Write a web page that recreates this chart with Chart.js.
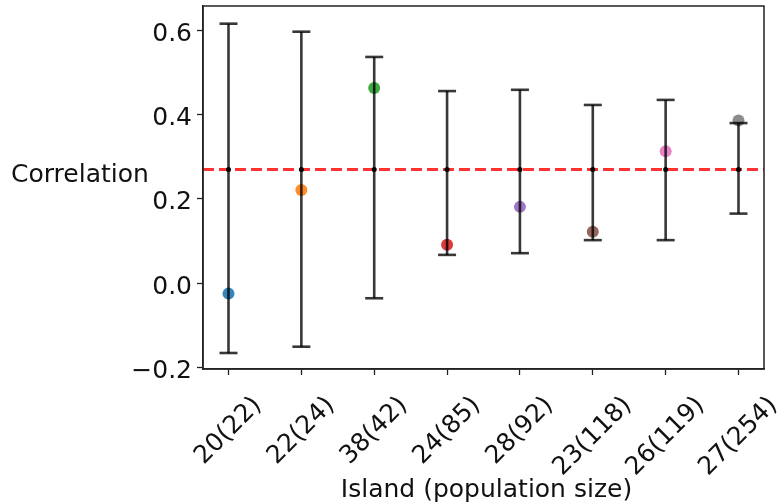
<!DOCTYPE html>
<html>
<head>
<meta charset="utf-8">
<script src="https://cdn.jsdelivr.net/npm/chart.js@4.4.1/dist/chart.umd.min.js"></script>
<style>
  html, body { margin: 0; padding: 0; background: #fff; }
</style>
</head>
<body>
<canvas id="graph_corr" width="777" height="504"></canvas>
<script>
// island labels: sample size (population size)
const islands = ["20(22)", "22(24)", "38(42)", "24(85)", "28(92)", "23(118)", "26(119)", "27(254)"];
const correlation = [-0.025, 0.221, 0.463, 0.091, 0.181, 0.122, 0.313, 0.386];
const nullMean = 0.27;
const nullLow = [-0.166, -0.151, -0.036, 0.067, 0.071, 0.102, 0.102, 0.165];
const nullHigh = [0.616, 0.597, 0.537, 0.456, 0.459, 0.423, 0.435, 0.380];
const yTicks = [-0.2, 0.0, 0.2, 0.4, 0.6];
const dotColors = ["#1f77b4", "#ff7f0e", "#2ca02c", "#d62728", "#9467bd", "#8c564b", "#e377c2", "#7f7f7f"];

const FONT = '"DejaVu Sans", sans-serif';
const xMin = -0.35, xMax = 7.35;

const canvas_corr = document.getElementById('graph_corr');
const ctx_corr = canvas_corr.getContext('2d');

const barPoints = [];
const capPoints = [];
islands.forEach((name, i) => {
  barPoints.push({x: i, y: nullLow[i]}, {x: i, y: nullHigh[i]}, {x: i, y: null});
  capPoints.push({x: i, y: nullLow[i]}, {x: i, y: nullHigh[i]});
});

const fmtTick = v => (v < -1e-9 ? '\u2212' : '') + Math.abs(v).toFixed(1);

const textPlugin = {
  id: 'textPlugin',
  afterDraw(chart) {
    const {ctx, chartArea} = chart;
    const xs = chart.scales.x;
    const ys = chart.scales.y;
    ctx.save();
    // top / right spines
    ctx.strokeStyle = '#222';
    ctx.lineWidth = 1.5;
    ctx.strokeRect(chartArea.left, chartArea.top, chartArea.right - chartArea.left, chartArea.bottom - chartArea.top);

    ctx.fillStyle = '#111';
    ctx.font = '25px ' + FONT;

    // y tick labels
    ctx.textAlign = 'right';
    ctx.textBaseline = 'alphabetic';
    yTicks.forEach(v => {
      ctx.fillText(fmtTick(v), chartArea.left - 11, ys.getPixelForValue(v) + 10.5);
    });

    // rotated x tick labels, bounding box centred under each tick
    islands.forEach((name, i) => {
      const px = xs.getPixelForValue(i);
      const w = ctx.measureText(name).width;
      const half = (w + 27) * Math.SQRT1_2 / 2;
      ctx.save();
      ctx.translate(px, chartArea.bottom + 23 + half);
      ctx.rotate(-Math.PI / 4);
      ctx.textAlign = 'center';
      ctx.textBaseline = 'middle';
      ctx.fillText(name, 0, 0);
      ctx.restore();
    });

    ctx.textAlign = 'center';
    ctx.textBaseline = 'alphabetic';
    ctx.fillText('Island (population size)', (chartArea.left + chartArea.right) / 2 + 3, 497);
    ctx.textAlign = 'left';
    ctx.fillText('Correlation', 11, 182);
    ctx.restore();
  }
};

const config_corr = {
  type: 'scatter',
  data: {
    datasets: [
      {
        label: 'observed',
        data: correlation.map((v, i) => ({x: i, y: v})),
        pointBackgroundColor: dotColors.map(c => c + 'e6'),
        pointBorderWidth: 0,
        pointRadius: 6,
        order: 5
      },
      {
        label: 'mean',
        type: 'line',
        data: [{x: xMin, y: nullMean}, {x: xMax, y: nullMean}],
        borderColor: 'rgba(255, 0, 0, 0.8)',
        borderWidth: 3,
        borderDash: [11, 5],
        pointRadius: 0,
        order: 4
      },
      {
        label: 'range',
        data: barPoints,
        showLine: true,
        spanGaps: false,
        borderColor: 'rgba(0, 0, 0, 0.78)',
        borderWidth: 2.6,
        pointRadius: 0,
        order: 3
      },
      {
        label: 'caps',
        data: capPoints,
        pointStyle: 'line',
        pointRadius: 9,
        pointBorderWidth: 2.6,
        pointBorderColor: 'rgba(0, 0, 0, 0.78)',
        order: 2
      },
      {
        label: 'centre',
        data: islands.map((n, i) => ({x: i, y: nullMean})),
        pointBackgroundColor: '#000',
        pointBorderWidth: 0,
        pointRadius: 2.5,
        order: 1
      }
    ]
  },
  options: {
    responsive: false,
    devicePixelRatio: 1,
    animation: false,
    layout: {autoPadding: false, padding: {top: 6, right: 13, left: 0, bottom: 0}},
    plugins: {
      legend: {display: false},
      tooltip: {enabled: false}
    },
    scales: {
      x: {
        type: 'linear',
        min: xMin,
        max: xMax,
        afterBuildTicks(scale) {
          scale.ticks = islands.map((n, i) => ({value: i}));
        },
        afterFit(scale) {
          scale.height = 135;
        },
        ticks: {display: false},
        grid: {drawOnChartArea: false, drawTicks: true, tickLength: 6, tickColor: '#222', tickWidth: 1.3},
        border: {display: true, color: '#222', width: 1.5}
      },
      y: {
        min: -0.204,
        max: 0.658,
        afterBuildTicks(scale) {
          scale.ticks = yTicks.map(v => ({value: v}));
        },
        afterFit(scale) {
          scale.width = 203;
        },
        ticks: {display: false},
        grid: {drawOnChartArea: false, drawTicks: true, tickLength: 6, tickColor: '#222', tickWidth: 1.3},
        border: {display: true, color: '#222', width: 1.5}
      }
    }
  },
  plugins: [textPlugin]
};

const corrChart = new Chart(ctx_corr, config_corr);
</script>
</body>
</html>
